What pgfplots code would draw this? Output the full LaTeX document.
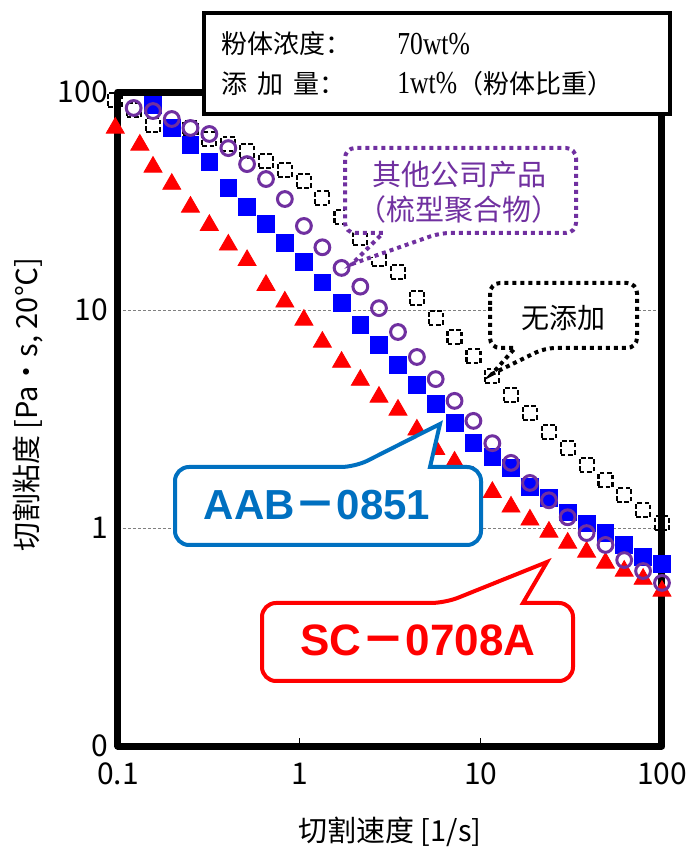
\documentclass[border=0pt]{standalone}
\usepackage{fontspec}
\setmainfont{Liberation Sans}
\newfontfamily\cjk{Noto Sans CJK SC}
\newfontfamily\serifnum{Liberation Serif}
\usepackage{pgfplots}
\usepackage{pgfplotstable}
\pgfplotsset{compat=1.18}
\definecolor{cpurple}{HTML}{7030A0}
\definecolor{cblue}{HTML}{0070C0}
\definecolor{mblue}{HTML}{0000FF}
\definecolor{mred}{HTML}{FF0000}

\pgfplotstableread{
x y
0.0966 91.9
0.122 82.7
0.156 70.6
0.198 69.1
0.251 68.4
0.319 60.9
0.406 57.7
0.515 53.6
0.655 48.2
0.832 43.9
1.06 39.1
1.34 32.7
1.71 26.7
2.17 21.4
2.75 17.1
3.50 14.9
4.45 11.4
5.65 9.19
7.18 7.52
9.12 6.15
11.6 4.98
14.7 4.07
18.7 3.37
23.8 2.76
30.2 2.33
38.4 1.95
48.8 1.66
61.9 1.42
78.7 1.21
100 1.05
}\tblack

\pgfplotstableread{
x y
0.156 87.1
0.198 68.4
0.251 57.2
0.319 47.7
0.406 36.3
0.515 29.7
0.655 24.8
0.832 20.3
1.06 16.6
1.34 13.4
1.71 10.8
2.17 8.53
2.75 6.91
3.50 5.59
4.45 4.53
5.65 3.71
7.18 3.03
9.12 2.45
11.6 2.12
14.7 1.88
18.7 1.54
23.8 1.37
30.2 1.18
38.4 1.05
48.8 0.948
61.9 0.836
78.7 0.736
100 0.684
}\tblue

\pgfplotstableread{
x y
0.122 84.5
0.156 81.8
0.198 75.2
0.251 68.4
0.319 64.2
0.406 55.3
0.515 46.7
0.655 39.9
0.832 32.3
1.06 24.3
1.34 19.4
1.71 15.6
2.17 12.8
2.75 10.2
3.50 7.93
4.45 6.09
5.65 4.82
7.18 3.83
9.12 3.10
11.6 2.45
14.7 1.99
18.7 1.61
23.8 1.34
30.2 1.12
38.4 0.948
48.8 0.836
61.9 0.713
78.7 0.635
100 0.560
}\tpurple

\pgfplotstableread{
x y
0.0966 68.4
0.132 57.2
0.156 45.3
0.198 37.8
0.251 29.7
0.319 24.5
0.406 19.9
0.515 16.9
0.655 13.0
0.832 10.9
1.06 9.00
1.34 7.13
1.71 5.77
2.17 4.77
2.75 3.99
3.50 3.48
4.45 2.82
5.65 2.30
7.18 2.01
9.12 1.71
11.6 1.46
14.7 1.25
18.7 1.09
23.8 0.959
30.2 0.854
38.4 0.776
48.8 0.691
61.9 0.635
78.7 0.583
100 0.514
}\tred

\begin{document}
\begin{tikzpicture}
\path[use as bounding box] (0,0) rectangle (348pt,423.5pt);
\begin{axis}[
  at={(59pt,50.5pt)}, anchor=south west,
  scale only axis, width=272pt, height=327pt,
  xmode=log, ymode=log, xmin=0.1, xmax=100, ymin=0.1, ymax=100,
  clip=false,
  axis line style={line width=3.5pt, line join=round},
  xtick={0.1,1,10,100}, xticklabels={0.1,1,10,100},
  ytick={0.1,1,10,100}, yticklabels={0,1,10,100},
  xtick pos=left, tick align=inside,
  major tick length=4pt,
  xtick style={line width=0.4pt, black},
  ytick style={draw=none},
  minor tick style={draw=none},
  ymajorgrids,
  major grid style={gray, line width=0.5pt, dash pattern=on 1.5pt off 1pt},
  ticklabel style={font=\cjk\fontsize{15pt}{15pt}\selectfont},
  xticklabel style={yshift=-5pt},
  yticklabel style={xshift=-1.5pt},
]
\addplot[only marks, mark=square, mark size=3.5pt,
  mark options={draw=black, line width=1.1pt, dash pattern=on 2.4pt off 1.2pt}] table {\tblack};
\addplot[only marks, mark=triangle*, mark size=5.2pt,
  mark options={draw=mred, fill=mred}] table {\tred};
\addplot[only marks, mark=square*, mark size=4.2pt,
  mark options={draw=mblue, fill=mblue}] table {\tblue};
\addplot[only marks, mark=o, mark size=3.7pt,
  mark options={draw=cpurple, line width=1.5pt}] table {\tpurple};
\end{axis}

\begin{scope}[x=0.5pt, y=-0.5pt, shift={(0pt,423.5pt)}]
% top info box
\draw[line width=2pt, fill=white] (204,13) rectangle (670,114);
\node[anchor=west, inner sep=0] at (221,44) {\cjk\fontsize{13pt}{13pt}\selectfont 粉体浓度：};
\node[anchor=west, inner sep=0] at (397,44) {\serifnum\scalebox{0.8}[1]{\fontsize{16pt}{16pt}\selectfont 70wt\%}};
\node[anchor=west, inner sep=0] at (221,84) {\cjk\fontsize{13pt}{13pt}\selectfont\makebox[62pt][l]{添\hfill 加\hfill 量：}};
\node[anchor=west, inner sep=0] at (397,84) {\serifnum\scalebox{0.8}[1]{\fontsize{16pt}{16pt}\selectfont 1wt\%}\cjk\fontsize{13pt}{13pt}\selectfont（粉体比重）};

% purple dotted callout
\draw[cpurple, line width=2pt, dash pattern=on 2pt off 2pt, fill=white]
  (345,190) [rounded corners=5pt] -- (345,148) -- (576,148) -- (576,233) -- (440,233)
  [sharp corners] -- (352,264) -- (383,233) [rounded corners=5pt] -- (345,233) -- cycle;
\node[cpurple, align=center, font=\cjk\fontsize{14.5pt}{17.5pt}\selectfont] at (459,192) {其他公司产品\\（梳型聚合物）};

% black dotted callout
\draw[black, line width=2pt, dash pattern=on 2pt off 2pt, fill=white]
  (490,315) [rounded corners=5pt] -- (490,283) -- (637,283) -- (637,348) -- (545,348)
  [sharp corners] -- (492,374) -- (515,348) [rounded corners=5pt] -- (490,348) -- cycle;
\node[font=\cjk\fontsize{14pt}{14pt}\selectfont] at (563,318) {无添加};

% blue callout
\draw[cblue, line width=2pt, fill=white]
  (175,505) [rounded corners=7pt] -- (175,467) -- (355,467)
  [sharp corners] -- (440,424) -- (430,467) [rounded corners=7pt] -- (481,467) -- (481,545) -- (175,545) -- cycle;
\node[cblue, font=\bfseries\fontsize{21pt}{21pt}\selectfont] at (317,505) {AAB{\cjk －}0851};

% red callout
\draw[mred, line width=2pt, fill=white]
  (262,640) [rounded corners=7pt] -- (262,603) -- (445,603)
  [sharp corners] -- (547,562) -- (523,603) [rounded corners=7pt] -- (573,603) -- (573,681) -- (262,681) -- cycle;
\node[mred, font=\bfseries\fontsize{22pt}{22pt}\selectfont] at (418,640) {SC{\cjk －}0708A};

% axis labels
\node[rotate=90, font=\cjk\fontsize{14.5pt}{14.5pt}\selectfont] at (28,405) {切割粘度 [Pa·s, 20℃]};
\node[font=\cjk\fontsize{14.5pt}{14.5pt}\selectfont] at (390,832) {切割速度 [1/s]};
\end{scope}
\end{tikzpicture}
\end{document}
